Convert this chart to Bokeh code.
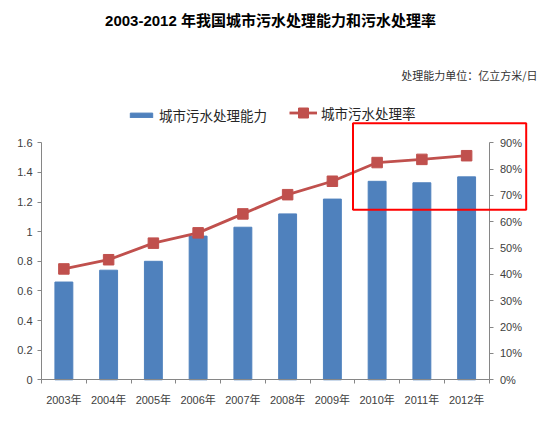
from bokeh.plotting import figure
from bokeh.models import (Range1d, LinearAxis, FixedTicker, PrintfTickFormatter,
                          Label, Legend, LegendItem, BoxAnnotation)
from bokeh.embed import file_html
from bokeh.resources import INLINE

# data
years = [2003, 2004, 2005, 2006, 2007, 2008, 2009, 2010, 2011, 2012]
year_labels = ["2003年", "2004年", "2005年", "2006年", "2007年",
               "2008年", "2009年", "2010年", "2011年", "2012年"]
capacity = [0.66, 0.74, 0.80, 0.97, 1.03, 1.12, 1.22, 1.34, 1.33, 1.37]   # 亿立方米/日
rate = [42.1, 45.6, 51.9, 55.8, 63.0, 70.3, 75.4, 82.5, 83.7, 85.1]      # %
left_ticks = [0, 0.2, 0.4, 0.6, 0.8, 1.0, 1.2, 1.4, 1.6]
right_ticks = [0, 10, 20, 30, 40, 50, 60, 70, 80, 90]

FONT = "Liberation Sans, Noto Sans CJK SC"
AXIS_GREY = "#868686"
LABEL_GREY = "#404040"
BLUE = "#4F81BD"
RED = "#C0504D"

# the frame covers the whole canvas so that texts and the red box are not clipped;
# the plot area inside it (canvas pixels) is:
W, H = 550, 431
AX_L, AX_R, AX_T, AX_B = 41, 488.5, 142.3, 379.3

xlo, xhi = years[0] - 0.5, years[-1] + 0.5
kx = (AX_R - AX_L) / (xhi - xlo)
ylo, yhi = left_ticks[0], left_ticks[-1]
ky = (AX_B - AX_T) / (yhi - ylo)
rlo, rhi = right_ticks[0], right_ticks[-1]
kr = (AX_B - AX_T) / (rhi - rlo)

p = figure(width=W, height=H, output_backend="svg", toolbar_location=None,
           x_range=Range1d(xlo - AX_L / kx, xhi + (W - AX_R) / kx),
           y_range=Range1d(ylo - (H - AX_B) / ky, yhi + AX_T / ky),
           min_border=0, x_axis_location=None, y_axis_location=None)
p.extra_y_ranges = {"rate": Range1d(rlo - (H - AX_B) / kr, rhi + AX_T / kr)}
p.outline_line_color = None
p.grid.visible = False

bars = p.vbar(x=years, top=capacity, width=0.4, fill_color=BLUE, line_color=BLUE)
line = p.line(years, rate, y_range_name="rate", line_color=RED, line_width=2.8)
marks = p.scatter(years, rate, y_range_name="rate", marker="square", size=10.5,
                  fill_color=RED, line_color=RED)

# axes
def style(ax):
    ax.axis_line_color = AXIS_GREY
    ax.major_tick_line_color = AXIS_GREY
    ax.major_tick_in = 0
    ax.major_tick_out = 4
    ax.minor_tick_line_color = None
    ax.major_label_text_font = FONT
    ax.major_label_text_font_size = "11px"
    ax.major_label_text_color = LABEL_GREY

yl = LinearAxis(ticker=FixedTicker(ticks=left_ticks), fixed_location=xlo,
                bounds=(ylo, yhi))
yl.major_label_overrides = {t: f"{t:g}" for t in left_ticks}
style(yl)
yl.major_label_standoff = 5
p.add_layout(yl, "left")

yr = LinearAxis(y_range_name="rate", ticker=FixedTicker(ticks=right_ticks),
                formatter=PrintfTickFormatter(format="%d%%"),
                fixed_location=xhi, bounds=(rlo, rhi))
style(yr)
yr.major_label_standoff = 7
p.add_layout(yr, "right")

bounds = [y - 0.5 for y in years] + [years[-1] + 0.5]
xa = LinearAxis(ticker=FixedTicker(ticks=years, minor_ticks=bounds),
                fixed_location=ylo, bounds=(xlo, xhi))
xa.major_label_overrides = dict(zip(years, year_labels))
style(xa)
xa.major_tick_line_color = None
xa.minor_tick_line_color = AXIS_GREY
xa.minor_tick_in = 0
xa.minor_tick_out = 4
xa.major_label_standoff = 10
p.add_layout(xa, "below")

# legend: two pieces, so the bar swatch stays thin while the marker stays large
common = dict(orientation="horizontal", glyph_width=28, label_standoff=4,
              padding=0, margin=0, border_line_color=None,
              background_fill_alpha=0, label_text_font=FONT,
              label_text_font_size="13.5px", label_text_color="#262626")
p.add_layout(Legend(items=[LegendItem(label="城市污水处理能力", renderers=[bars])],
                    location=(127, 306), glyph_height=6, label_height=14, **common))
p.add_layout(Legend(items=[LegendItem(label="城市污水处理率", renderers=[line, marks])],
                    location=(289, 306), glyph_height=25, label_height=25, **common))

# titles
p.add_layout(Label(x=270, y=411, x_units="screen", y_units="screen",
                   text="2003-2012 年我国城市污水处理能力和污水处理率",
                   text_align="center", text_baseline="middle",
                   text_font=FONT, text_font_size="15px", text_font_style="bold",
                   text_color="#000000"))
p.add_layout(Label(x=537, y=357, x_units="screen", y_units="screen",
                   text="处理能力单位：亿立方米/日",
                   text_align="right", text_baseline="middle",
                   text_font="Noto Sans CJK SC", text_font_size="11px",
                   text_color="#333333"))

# red highlight box
p.add_layout(BoxAnnotation(left=352.5, right=525.7, top=308.3, bottom=221.7,
                           left_units="screen", right_units="screen",
                           top_units="screen", bottom_units="screen",
                           fill_alpha=0, line_color="#FF0000", line_alpha=1,
                           line_width=2))

open("out.html", "w").write(file_html(p, INLINE))
